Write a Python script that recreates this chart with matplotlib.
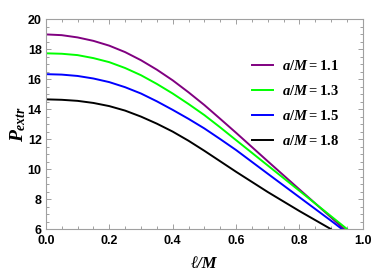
import matplotlib
matplotlib.use("Agg")
import matplotlib.pyplot as plt
from matplotlib.ticker import MultipleLocator

plt.rcParams['mathtext.fontset'] = 'custom'
plt.rcParams['mathtext.it'] = 'Liberation Serif:bold:italic'
plt.rcParams['mathtext.rm'] = 'Liberation Serif:bold'
plt.rcParams['mathtext.bf'] = 'Liberation Serif:bold'

# values
l_11 = [0, 0.05, 0.1, 0.15, 0.2, 0.25, 0.3, 0.35, 0.4, 0.45, 0.5, 0.55, 0.6, 0.7, 0.8, 0.9, 0.941]
p_11 = [18.98, 18.93, 18.78, 18.55, 18.23, 17.8, 17.26, 16.63, 15.92, 15.12, 14.27, 13.35, 12.42, 10.52, 8.64, 6.77, 6.0]

l_13 = [0, 0.05, 0.1, 0.15, 0.2, 0.25, 0.3, 0.35, 0.4, 0.45, 0.5, 0.55, 0.6, 0.7, 0.8, 0.9, 0.95]
p_13 = [17.72, 17.69, 17.6, 17.4, 17.13, 16.74, 16.26, 15.68, 15.04, 14.34, 13.6, 12.78, 11.93, 10.24, 8.55, 6.85, 6.0]

l_15 = [0, 0.05, 0.1, 0.15, 0.2, 0.25, 0.3, 0.35, 0.4, 0.45, 0.5, 0.55, 0.6, 0.7, 0.8, 0.9, 0.934]
p_15 = [16.33, 16.3, 16.21, 16.04, 15.8, 15.46, 15.04, 14.52, 13.95, 13.35, 12.71, 12.0, 11.27, 9.69, 8.12, 6.55, 6.0]

l_18 = [0, 0.05, 0.1, 0.15, 0.2, 0.25, 0.3, 0.35, 0.4, 0.45, 0.5, 0.55, 0.6, 0.7, 0.8, 0.899]
p_18 = [14.65, 14.62, 14.55, 14.41, 14.2, 13.9, 13.5, 13.03, 12.5, 11.89, 11.22, 10.52, 9.82, 8.47, 7.2, 6.0]

series = [
    (l_11, p_11, '#800080', '1.1'),
    (l_13, p_13, '#00ff00', '1.3'),
    (l_15, p_15, '#0000ff', '1.5'),
    (l_18, p_18, '#000000', '1.8'),
]

fig = plt.figure(figsize=(3.82, 2.77), dpi=100)
ax = fig.add_axes([0.120, 0.173, 0.830, 0.758])

for xs, ys, c, a in series:
    ax.plot(xs, ys, color=c, lw=1.4, label=r'$a/M\mathrm{=' + a + '}$')

ax.set_xlim(0, 1)
ax.set_ylim(6, 20)
ax.xaxis.set_major_locator(MultipleLocator(0.2))
ax.xaxis.set_minor_locator(MultipleLocator(0.05))
ax.yaxis.set_major_locator(MultipleLocator(2))
ax.yaxis.set_minor_locator(MultipleLocator(0.5))
ax.set_xticks([0, 0.2, 0.4, 0.6, 0.8, 1.0])
ax.set_xticklabels(['0.0', '0.2', '0.4', '0.6', '0.8', '1.0'])

for s in ax.spines.values():
    s.set_color('#a0a0a0')
    s.set_linewidth(0.8)
ax.tick_params(which='both', direction='in', top=True, right=True,
               color='#a0a0a0', width=0.7)
ax.tick_params(which='major', length=3.5)
ax.tick_params(axis='x', which='major', pad=4.5)
ax.tick_params(axis='y', which='major', pad=3)
ax.tick_params(which='minor', length=2)
for lab in ax.get_xticklabels() + ax.get_yticklabels():
    lab.set_fontfamily('Liberation Sans')
    lab.set_fontweight('bold')
    lab.set_fontsize(9)

ax.set_ylabel(r'$P_{extr}$', fontsize=14, labelpad=0)
ax.set_xlabel('ℓ/M', family=['Liberation Serif', 'DejaVu Serif'],
              style='italic', weight='bold', fontsize=12, labelpad=6)

ax.legend(loc='upper right', bbox_to_anchor=(0.965, 0.875), frameon=False,
          fontsize=10.5, handlelength=1.45, handletextpad=0.6, labelspacing=0.68)

fig.savefig('out.png', dpi=100)
